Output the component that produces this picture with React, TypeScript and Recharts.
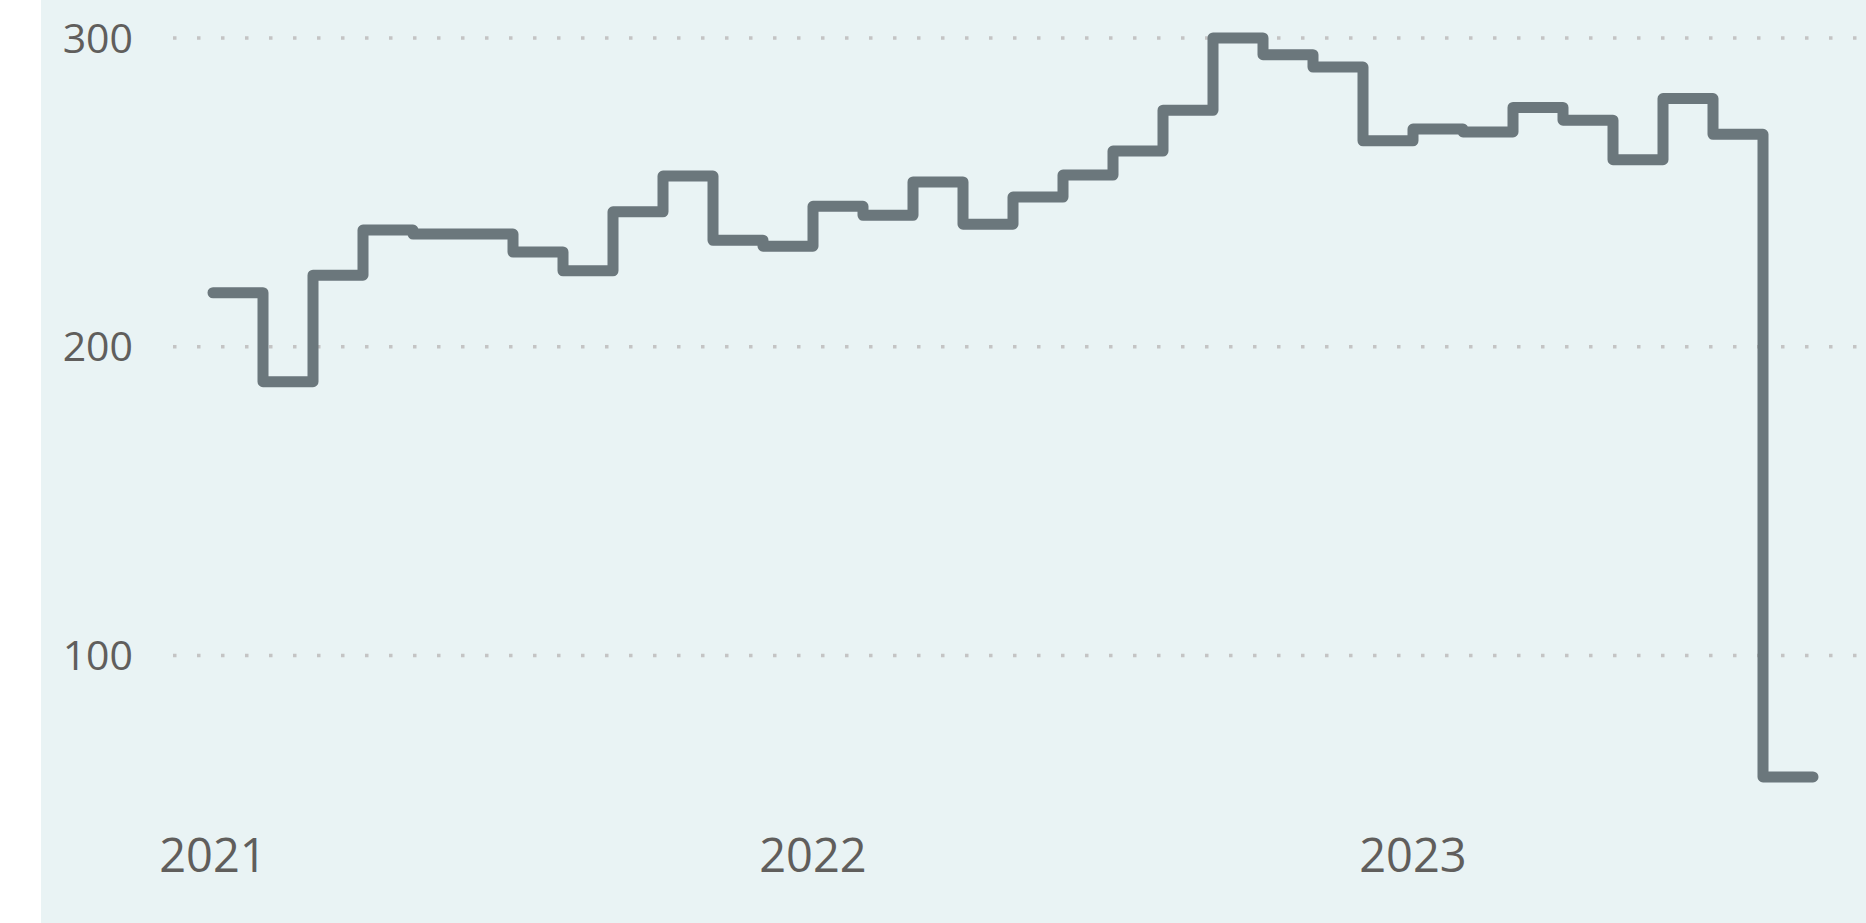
import { LineChart, Line, XAxis, YAxis, CartesianGrid } from 'recharts';

// monthly values, Jan 2021 .. Aug 2023
const monthlyValues = [
  217.5, 188.7, 223.2, 237.8, 236.5, 236.5, 230.7, 224.6, 243.7, 255.3, 234.5, 232.6,
  245.5, 242.6, 253.4, 239.7, 248.5, 255.6, 263.4, 276.6, 300, 294.6, 290.6, 266.7,
  270.5, 269.6, 277.5, 273.4, 260.6, 280.4, 268.8, 60.7,
];
const yearTicks = [0, 12, 24];
const yearLabels = ['2021', '2022', '2023'];
const valueTicks = [100, 200, 300];

// each month is drawn as a flat step; the closing point ends the last month's step
const data = [
  ...monthlyValues.map((v, i) => ({ m: i, v })),
  { m: monthlyValues.length, v: monthlyValues[monthlyValues.length - 1] },
];

const font = '"Segoe UI", "Open Sans", sans-serif';
const textColor = '#605E5C';

export default function App() {
  return (
    <div style={{ position: 'absolute', left: 0, top: 0, width: 1866, height: 923, background: '#fff' }}>
      <div style={{ position: 'absolute', left: 41, top: 0, width: 1825, height: 923, background: '#E9F3F4' }} />
      <div style={{ position: 'absolute', left: 0, top: 0 }}>
        <LineChart width={1866} height={923} data={data} margin={{ top: 38, right: 0, bottom: 0, left: 0 }}>
          <CartesianGrid
            vertical={false}
            horizontalValues={valueTicks}
            stroke="#C4C4C4"
            strokeWidth={3.5}
            strokeDasharray="3.5 20.5"
          />
          <XAxis
            dataKey="m"
            type="number"
            domain={[-0.8, 33.06]}
            allowDataOverflow
            ticks={yearTicks}
            interval={0}
            tickFormatter={(v: number) => yearLabels[yearTicks.indexOf(v)]}
            axisLine={false}
            tickLine={false}
            tickSize={0}
            tickMargin={29}
            height={113}
            tick={{ fontSize: 47, fill: textColor, fontFamily: font }}
          />
          <YAxis
            type="number"
            domain={[50, 300]}
            ticks={valueTicks}
            interval={0}
            axisLine={false}
            tickLine={false}
            tickSize={0}
            tickMargin={40}
            width={173}
            tick={{ fontSize: 41, fill: textColor, fontFamily: font }}
          />
          <Line
            type="stepAfter"
            dataKey="v"
            stroke="#6B777C"
            strokeWidth={11}
            strokeLinecap="round"
            strokeLinejoin="round"
            dot={false}
            activeDot={false}
            isAnimationActive={false}
          />
        </LineChart>
      </div>
    </div>
  );
}
